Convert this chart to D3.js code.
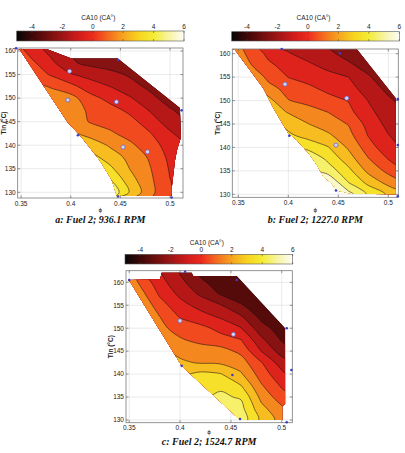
<!DOCTYPE html>
<html><head><meta charset="utf-8">
<script src="https://cdn.jsdelivr.net/npm/d3@7"></script>
<style>body{margin:0;background:#fff}svg{display:block}</style>
</head><body>
<svg id="chart" width="405" height="453"></svg>
<script>
// ---------------- data ----------------
const phiCols = [0.34, 0.36, 0.38, 0.40, 0.42, 0.44, 0.46, 0.48, 0.50, 0.52];
const tinRows = [162.5, 160, 157.5, 155, 152.5, 150, 147.5, 145, 142.5, 140, 137.5, 135, 132.5, 130];
const levels = [-5, -4, -3, -2, -1, 0, 1, 2, 3, 4, 5];
const cbTicks = [-4, -2, 0, 2, 4, 6];
const xTicks = [0.35, 0.4, 0.45, 0.5];
const yTicks = [130, 135, 140, 145, 150, 155, 160];

// CA10 (CA°): Fuel 2; 936.1 RPM
const gridA = [
  [0.15, -0.9, -1.5, -2.1, -2.4, -2.6, -2.8, -3.0, -3.2, -3.3],
  [0.8, -0.35, -1.3, -2.05, -2.4, -2.6, -2.8, -3.0, -3.2, -3.3],
  [1.3, 0.25, -0.76, -1.85, -2.3, -2.5, -2.7, -2.9, -3.1, -3.2],
  [1.8, 0.7, -0.1, -0.93, -1.3, -1.7, -2.15, -2.6, -2.9, -3.1],
  [2.0, 1.2, 0.95, 0.3, -0.6, -1.02, -1.63, -2.25, -2.7, -3.0],
  [1.8, 1.5, 1.3, 1.35, 0.35, -0.35, -0.92, -1.7, -2.5, -2.9],
  [1.6, 1.6, 1.6, 1.5, 0.8, 0.35, -0.25, -1.1, -1.9, -2.5],
  [1.8, 1.8, 1.7, 1.55, 0.92, 0.6, 0.3, -0.5, -1.5, -2.1],
  [2.6, 2.5, 2.4, 2.2, 1.6, 1.15, 0.6, 0.05, -0.85, -1.7],
  [3.6, 3.5, 3.4, 3.3, 2.6, 1.85, 1.2, 0.4, -0.4, -1.0],
  [4.5, 4.4, 4.2, 4.0, 3.35, 2.5, 1.7, 0.85, -0.25, -0.8],
  [5.5, 5.5, 5.4, 5.2, 4.5, 3.2, 1.95, 1.05, -0.1, -0.6],
  [6, 6, 6, 6, 5.2, 4.1, 2.4, 1.2, 0.02, -0.5],
  [6, 6, 6, 6, 5.6, 4.9, 2.85, 1.3, 0.05, -0.4]
];
// panel b: Fuel 2; 1227.0 RPM
const gridB = [
  [1.8, 0.25, -1.0, -1.4, -1.8, -2.2, -2.6, -2.9, -3.1, -3.2],
  [2.0, 0.82, -0.23, -0.92, -1.39, -1.82, -2.3, -2.7, -3.0, -3.2],
  [2.2, 1.18, 0.2, -0.36, -0.81, -1.3, -1.83, -2.35, -2.8, -3.1],
  [3.0, 2.1, 0.72, -0.02, -0.34, -0.66, -0.99, -1.9, -2.6, -3.0],
  [3.5, 2.9, 1.4, 0.64, 0.22, -0.23, -0.7, -1.35, -2.3, -2.9],
  [4.0, 3.3, 2.34, 1.04, 0.67, 0.33, -0.04, -1.03, -1.8, -2.5],
  [4.5, 3.8, 2.6, 1.94, 1.47, 0.99, 0.3, -0.74, -1.51, -2.15],
  [5.0, 4.3, 3.5, 2.67, 2.02, 1.5, 0.95, -0.35, -1.28, -1.85],
  [5.5, 5.0, 4.2, 3.2, 2.67, 2.18, 1.36, -0.04, -0.95, -1.6],
  [6, 5.6, 5.0, 4.3, 3.68, 3.05, 1.87, 0.49, -0.7, -1.2],
  [6, 6, 6, 5.6, 5.0, 3.76, 2.5, 1.07, -0.02, -0.6],
  [6, 6, 6, 6, 5.5, 4.55, 3.3, 1.75, 0.73, -0.2],
  [6, 6, 6, 6, 6, 6, 4.02, 2.73, 1.67, 0.8],
  [6, 6, 6, 6, 6, 6, 5.4, 3.85, 2.85, 1.8]
];
// panel c: Fuel 2; 1524.7 RPM
const gridC = [
  [2.2, 0.1, -0.96, -2.15, -3.25, -3.7, -3.9, -3.95, -3.95, -3.95],
  [2.5, 0.88, -0.63, -1.69, -2.83, -3.4, -3.7, -3.9, -3.95, -3.95],
  [2.8, 1.45, -0.16, -1.24, -2.16, -3.1, -3.5, -3.8, -3.95, -3.95],
  [3.2, 2.0, 0.43, -0.63, -1.35, -1.95, -2.93, -3.5, -3.8, -3.95],
  [3.5, 2.6, 1.01, -0.08, -0.59, -1.14, -1.88, -3.3, -3.7, -3.95],
  [4.0, 3.0, 1.25, 0.62, 0.27, -0.28, -0.96, -2.6, -3.5, -3.9],
  [4.5, 3.3, 1.6, 1.1, 0.7, 0.35, 0.01, -1.8, -3.1, -3.7],
  [5.0, 3.8, 2.2, 1.75, 1.5, 1.4, 0.75, -1.03, -2.45, -3.4],
  [5.5, 4.5, 3.2, 2.15, 1.92, 1.85, 1.45, 0.05, -1.5, -2.4],
  [6, 5.2, 4.2, 2.8, 3.25, 3.05, 2.12, 0.53, -0.73, -1.9],
  [6, 5.5, 4.6, 3.9, 3.8, 3.85, 3.02, 1.1, -0.14, -1.0],
  [6, 6, 5.5, 4.2, 3.9, 4.15, 3.9, 1.7, 0.45, -0.4],
  [5, 5, 5, 4.5, 4.6, 4.7, 4.3, 2.3, 1.2, 0.0],
  [5, 5, 5, 4.6, 4.7, 4.8, 4.6, 2.75, 1.6, 1.0]
];

// measured operating range (phi, Tin) of each map
const regionA = [[0.3466,160.45],[0.3756,160.45],[0.4008,158.4],[0.4473,158.4],[0.5099,147.9],[0.5109,141.7],[0.5069,138.9],[0.505,136.8],[0.5018,131.1],[0.5018,129.2],[0.4463,129.2],[0.4412,132.6],[0.4291,136.8],[0.4109,141.7],[0.3968,144.9],[0.3483,160.4]];
const regionB = [[0.344,161.0],[0.4684,161.0],[0.5074,150.5],[0.5074,130.0],[0.4634,130.1],[0.4484,130.8],[0.4434,132.3],[0.435,133.8],[0.4284,136.3],[0.4217,138.4],[0.4084,141.6],[0.40,143.0],[0.395,144.8],[0.385,148.4],[0.375,152.6],[0.3467,160.8]];
const regionC = [[0.349,160.5],[0.3803,160.65],[0.3819,162.1],[0.4114,162.1],[0.413,161.4],[0.4557,161.4],[0.5033,150.0],[0.5033,133.5],[0.5005,133.0],[0.5005,130.0],[0.459,130.0],[0.4016,141.77],[0.3507,160.14]];

// measurement points: [phi, Tin, kind] kind 1 = open circle, 0 = small dot
const pointsA = [[0.3988,155.7,1],[0.4476,158.1,0],[0.3971,149.6,1],[0.446,149.2,1],[0.5116,147.4,0],[0.4072,142.1,0],[0.4526,139.6,1],[0.4773,138.6,1],[0.4476,129.1,0],[0.5015,128.9,0],[0.345,160.6,0]];
const pointsB = [[0.3967,153.5,1],[0.4584,150.5,1],[0.4477,140.5,1],[0.3934,161.0,0],[0.4517,160.1,0],[0.5095,150.3,0],[0.5095,140.5,0],[0.401,142.5,0],[0.4477,130.8,0],[0.5095,129.6,0]];
const pointsC = [[0.3999,151.6,1],[0.4524,148.66,1],[0.4515,139.8,0],[0.4016,141.8,0],[0.4049,162.3,0],[0.4557,160.5,0],[0.5049,150.0,0],[0.5095,140.9,0],[0.459,130.2,0],[0.5049,129.5,0],[0.35,160.5,0]];

const captions = ["a: Fuel 2; 936.1 RPM", "b: Fuel 2; 1227.0 RPM", "c: Fuel 2; 1524.7 RPM"];
const cbTitle = "CA10 (CA\u00B0)";
const yTitle = "Tin (\u00B0C)";
const xTitle = "\u03D5";

// colour map (value -> colour)
const cmapValues = [-5, -4, -3, -2, -1, 0, 1, 2, 3, 4, 5, 6];
const cmapColors = ["#080606","#3e0707","#6e0e0e","#9e1515","#cd1b1b","#ee2a1c","#f46a1f","#f6a41f","#f7d31f","#f5ec34","#f7f4a2","#fdfdf6"];

// ---------------- layout ----------------
const panels = [
  {id:"a", grid:gridA, region:regionA, points:pointsA, caption:captions[0],
   box:{left:17.7,right:183,top:48,bottom:198}, phiDomain:[0.3466,0.513], tinDomain:[128.79,160.64],
   cbar:{left:16.7,right:184,top:31,bottom:41}, titleY:19.5, capY:222.5, yTitleX:3.6, phiY:211.5},
  {id:"b", grid:gridB, region:regionB, points:pointsB, caption:captions[1],
   box:{left:232.3,right:398.3,top:49,bottom:197.3}, phiDomain:[0.344,0.51], tinDomain:[129.36,161.0],
   cbar:{left:231.7,right:399.3,top:31.7,bottom:41}, titleY:19.5, capY:222.5, yTitleX:217, phiY:211.5},
  {id:"c", grid:gridC, region:regionC, points:pointsC, caption:captions[2],
   box:{left:126,right:292.3,top:270.7,bottom:422.7}, phiDomain:[0.3468,0.5104], tinDomain:[129.41,162.53],
   cbar:{left:125,right:292.7,top:254.3,bottom:264}, titleY:244.5, capY:445, yTitleX:110.5, phiY:434}
];

const svg = d3.select("#chart");
const defs = svg.append("defs");
const color = d3.scaleLinear().domain(cmapValues).range(cmapColors).interpolate(d3.interpolateRgb);
const sans = "'Liberation Sans', Arial, sans-serif";

// shared gradient for colorbars
const grad = defs.append("linearGradient").attr("id","cbgrad").attr("x1","0%").attr("x2","100%").attr("y1","0%").attr("y2","0%");
d3.range(0, 111).forEach(i => {
  const v = -5 + i * 0.1;
  grad.append("stop").attr("offset", (i/110*100)+"%").attr("stop-color", color(v));
});

function drawPanel(p) {
  const g = svg.append("g");
  const b = p.box;
  const x = d3.scaleLinear().domain(p.phiDomain).range([b.left, b.right]);
  const y = d3.scaleLinear().domain(p.tinDomain).range([b.bottom, b.top]);

  // colorbar
  const cb = p.cbar;
  const cx = d3.scaleLinear().domain([-5, 6]).range([cb.left, cb.right]);
  g.append("rect").attr("x",cb.left).attr("y",cb.top).attr("width",cb.right-cb.left).attr("height",cb.bottom-cb.top)
    .attr("fill","url(#cbgrad)").attr("stroke","#555").attr("stroke-width",0.6);
  cbTicks.forEach(t => {
    g.append("line").attr("x1",cx(t)).attr("x2",cx(t)).attr("y1",cb.top).attr("y2",cb.top+2).attr("stroke","#444").attr("stroke-width",0.5);
    g.append("line").attr("x1",cx(t)).attr("x2",cx(t)).attr("y1",cb.bottom).attr("y2",cb.bottom-2).attr("stroke","#444").attr("stroke-width",0.5);
    g.append("text").attr("x",cx(t)).attr("y",cb.top-2.5).attr("text-anchor","middle")
      .attr("font-family",sans).attr("font-size",6.5).attr("fill","#222").text(t);
  });
  g.append("text").attr("x",(cb.left+cb.right)/2-2).attr("y",p.titleY).attr("text-anchor","middle")
    .attr("font-family",sans).attr("font-size",6.5).attr("fill","#222").text(cbTitle);

  // grid lines
  xTicks.forEach(t => g.append("line").attr("x1",x(t)).attr("x2",x(t)).attr("y1",b.top).attr("y2",b.bottom)
    .attr("stroke","#dcdcdc").attr("stroke-width",0.6));
  yTicks.forEach(t => g.append("line").attr("y1",y(t)).attr("y2",y(t)).attr("x1",b.left).attr("x2",b.right)
    .attr("stroke","#dcdcdc").attr("stroke-width",0.6));

  // clip to measured region
  const clipId = "clip" + p.id;
  defs.append("clipPath").attr("id", clipId).append("path")
    .attr("d", d3.line()(p.region.map(d => [x(d[0]), y(d[1])])) + "Z");

  // filled contours
  const nx = phiCols.length, ny = tinRows.length;
  const values = p.grid.flat();
  const contours = d3.contours().size([nx, ny]).thresholds(levels)(values);
  const dphi = phiCols[1] - phiCols[0], dtin = tinRows[1] - tinRows[0];
  const toPx = c => [x(phiCols[0] + (c[0] - 0.5) * dphi), y(tinRows[0] + (c[1] - 0.5) * dtin)];
  const ringLine = d3.line().curve(d3.curveCatmullRomClosed.alpha(0.5));
  const pathOf = c => c.coordinates.map(poly => poly.map(ring => ringLine(ring.slice(0, -1).map(toPx))).join("")).join("");
  const gc = g.append("g").attr("clip-path", `url(#${clipId})`);
  contours.forEach(c => {
    gc.append("path").attr("d", pathOf(c)).attr("fill", color(c.value + 0.5)).attr("fill-rule","evenodd").attr("stroke","none");
  });
  contours.forEach(c => {
    if (c.value === levels[0]) return;
    gc.append("path").attr("d", pathOf(c)).attr("fill","none").attr("stroke","#1a1010").attr("stroke-width",0.55);
  });

  // frame + ticks
  g.append("rect").attr("x",b.left).attr("y",b.top).attr("width",b.right-b.left).attr("height",b.bottom-b.top)
    .attr("fill","none").attr("stroke","#7a7a7a").attr("stroke-width",0.8);
  xTicks.forEach(t => {
    g.append("line").attr("x1",x(t)).attr("x2",x(t)).attr("y1",b.bottom).attr("y2",b.bottom-2.5).attr("stroke","#555").attr("stroke-width",0.6);
    g.append("line").attr("x1",x(t)).attr("x2",x(t)).attr("y1",b.top).attr("y2",b.top+2.5).attr("stroke","#555").attr("stroke-width",0.6);
    g.append("text").attr("x",x(t)).attr("y",b.bottom+7.5).attr("text-anchor","middle")
      .attr("font-family",sans).attr("font-size",6.5).attr("fill","#222").text(+t.toFixed(2));
  });
  yTicks.forEach(t => {
    g.append("line").attr("y1",y(t)).attr("y2",y(t)).attr("x1",b.left).attr("x2",b.left+2.5).attr("stroke","#555").attr("stroke-width",0.6);
    g.append("line").attr("y1",y(t)).attr("y2",y(t)).attr("x1",b.right).attr("x2",b.right-2.5).attr("stroke","#555").attr("stroke-width",0.6);
    g.append("text").attr("x",b.left-2).attr("y",y(t)+2.3).attr("text-anchor","end")
      .attr("font-family",sans).attr("font-size",6.5).attr("fill","#222").text(t);
  });

  // measurement points
  p.points.forEach(d => {
    if (d[2] === 1) {
      g.append("circle").attr("cx",x(d[0])).attr("cy",y(d[1])).attr("r",2.1)
        .attr("fill","#d6d3ee").attr("stroke","#5b5bcf").attr("stroke-width",0.7);
    } else {
      g.append("circle").attr("cx",x(d[0])).attr("cy",y(d[1])).attr("r",1.3).attr("fill","#3c3cc8");
    }
  });

  // axis titles and caption
  const midX = (b.left + b.right) / 2, midY = (b.top + b.bottom) / 2;
  g.append("text").attr("x",midX).attr("y",p.phiY).attr("text-anchor","middle")
    .attr("font-family","'DejaVu Sans', sans-serif").attr("font-size",5.5).attr("fill","#222").text(xTitle);
  g.append("text").attr("transform",`translate(${p.yTitleX},${midY}) rotate(-90)`).attr("text-anchor","middle")
    .attr("dominant-baseline","central")
    .attr("font-family",sans).attr("font-weight","bold").attr("font-size",6.5).attr("fill","#222").text(yTitle);
  g.append("text").attr("x",midX).attr("y",p.capY).attr("text-anchor","middle")
    .attr("font-family","'Liberation Serif', 'Times New Roman', serif").attr("font-weight","bold").attr("font-style","italic")
    .attr("font-size",10).attr("fill","#111").text(p.caption);
}

panels.forEach(drawPanel);
</script>
</body></html>
